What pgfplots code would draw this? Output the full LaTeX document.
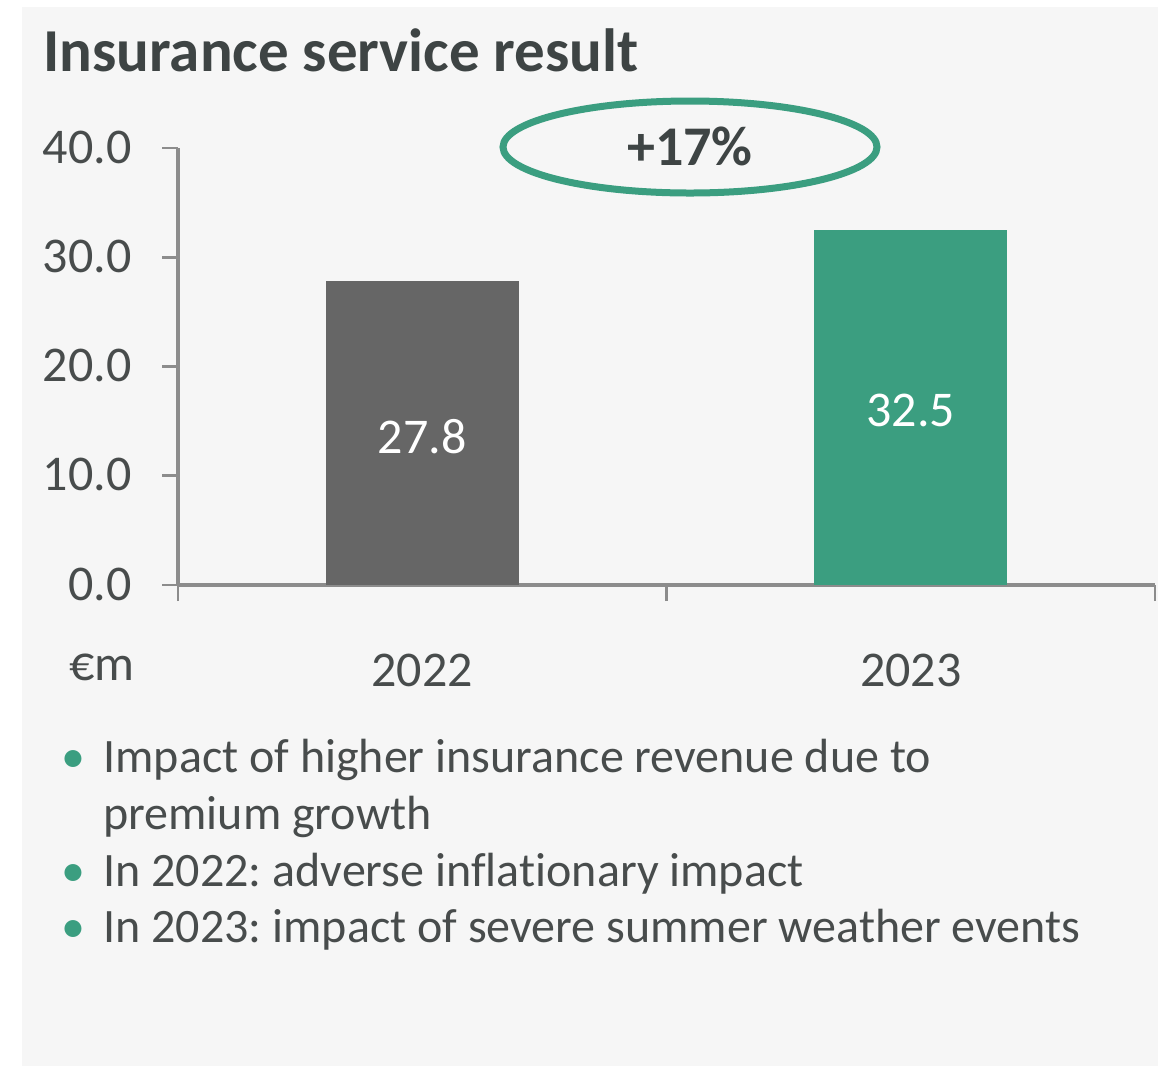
\documentclass[border=0pt]{standalone}
\usepackage{fontspec}
\setmainfont{Carlito}[Ligatures=NoCommon]
\usepackage{pgfplots}
\pgfplotsset{compat=1.18}
\definecolor{panel}{RGB}{246,246,246}
\definecolor{bargray}{RGB}{102,102,102}
\definecolor{bargreen}{RGB}{59,158,128}
\definecolor{axisgray}{RGB}{140,140,140}
\definecolor{txt}{RGB}{72,76,76}
\definecolor{ttl}{RGB}{62,68,68}
\frenchspacing

\begin{document}
\begin{tikzpicture}[x=0.5bp,y=-0.5bp]
% page and panel (coordinates in reference pixels, y downwards)
\fill[white] (0,0) rectangle (1158,1066);
\fill[panel] (22,7) rectangle (1158,1066);
\node[anchor=base west,inner sep=0,text=ttl,font=\fontsize{30.5bp}{36bp}\selectfont\bfseries] at (43,71) {Insurance service result};

% axis origin at pixel (178,585)
\begin{axis}[
  at={(89bp,-292.5bp)}, anchor=south west,
  scale only axis, width=488.5bp, height=218.5bp,
  xmin=0, xmax=2, ymin=0, ymax=40,
  axis x line*=bottom, axis y line*=left,
  axis line style={draw=axisgray, line width=1.6bp},
  x axis line style={line width=2.2bp},
  tick align=outside,
  ytick={0,10,20,30,40},
  major tick length=8bp, minor tick length=8bp,
  every tick/.style={draw=axisgray, line width=1.4bp},
  xtick={0.5,1.5}, xticklabels={2022,2023},
  major x tick style={draw=none},
  minor xtick={0,1,2},
  ticklabel style={text=txt, font=\fontsize{25bp}{30bp}\selectfont},
  yticklabel style={anchor=east, inner sep=0pt, xshift=-15bp, yshift=-1.5bp,
    /pgf/number format/.cd, fixed, fixed zerofill, precision=1, assume math mode=true},
  xticklabel style={anchor=base, inner sep=0pt, yshift=-42.5bp},
  typeset ticklabels with strut=false,
  clip=false,
]
\addplot[ybar, bar width=96.5bp, bar shift=0pt, fill=bargray, draw=none] coordinates {(0.5,27.8)};
\addplot[ybar, bar width=96.5bp, bar shift=0pt, fill=bargreen, draw=none] coordinates {(1.5,32.5)};
% value labels inside the bars, at mid height
\addplot[draw=none, nodes near coords, point meta=explicit symbolic,
  every node near coord/.style={anchor=center, text=white, inner sep=0pt, yshift=-1.5bp,
    font=\fontsize{25bp}{30bp}\selectfont}]
  coordinates {(0.5,13.9) [27.8] (1.5,16.25) [32.5]};
\end{axis}

% unit label
\node[anchor=base west,inner sep=0,text=txt,font=\fontsize{25bp}{30bp}\selectfont] at (69,680) {€m};

% growth bubble
\draw[bargreen, line width=3.5bp] (690,147) ellipse [x radius=187, y radius=46];
\node[anchor=base,inner sep=0,text=ttl,font=\fontsize{28bp}{34bp}\selectfont\bfseries] at (690,165) {+17\%};

% bullets
\begin{scope}[every node/.style={inner sep=0, font=\fontsize{24bp}{29bp}\selectfont}]
\node[anchor=base west,text=txt] at (103,772) {Impact of higher insurance revenue due to};
\node[anchor=base west,text=txt] at (103,829) {premium growth};
\node[anchor=base west,text=txt] at (103,886) {In 2022: adverse inflationary impact};
\node[anchor=base west,text=txt] at (103,942) {In 2023: impact of severe summer weather events};
\node[anchor=base,text=bargreen] at (73,772) {•};
\node[anchor=base,text=bargreen] at (73,886) {•};
\node[anchor=base,text=bargreen] at (73,942) {•};
\end{scope}
\end{tikzpicture}
\end{document}
